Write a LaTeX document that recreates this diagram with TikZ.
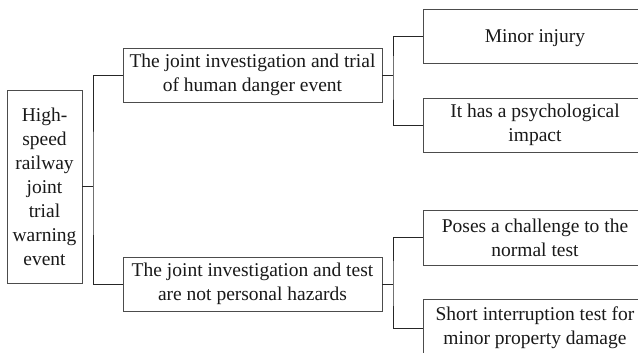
\documentclass[tikz,border=0pt]{standalone}
\usepackage{fontspec}
\setmainfont{Liberation Serif}
\begin{document}
\begin{tikzpicture}[x=1pt,y=-1pt,
  box/.style={draw=black!70, line width=0.9pt, inner sep=0pt, align=center,
    font=\fontsize{19.5}{24}\selectfont, text=black!90},
  multi/.style={box, execute at end node={\vspace{-4pt}}},
  single/.style={box, execute at begin node={\rule{0pt}{18pt}}},
  wire/.style={draw=black!85, line width=0.9pt}]
\useasboundingbox (0,0) rectangle (638,353);
\fill[white] (0,0) rectangle (638,353);
\node[multi, minimum width=75pt, minimum height=193pt] (root) at (44.5,186.5)
  {High-\\speed\\railway\\joint\\trial\\warning\\event};
\node[multi, minimum width=259pt, minimum height=54pt] (m1) at (252.5,75)
  {The joint investigation and trial\\of human danger event};
\node[multi, minimum width=259pt, minimum height=54pt] (m2) at (252.5,284)
  {The joint investigation and test\\are not personal hazards};
\node[single, minimum width=224pt, minimum height=54pt] (l1) at (535,36)
  {Minor injury};
\node[multi, minimum width=224pt, minimum height=54pt] (l2) at (535,125)
  {It has a psychological\\impact};
\node[multi, minimum width=224pt, minimum height=55pt] (l3) at (535,237.5)
  {Poses a challenge to the\\normal test};
\node[multi, minimum width=224pt, minimum height=58pt] (l4) at (535,328)
  {Short interruption test for\\minor property damage};
\coordinate (b1) at (93,186.5);
\coordinate (b2) at (393,75);
\coordinate (b3) at (393,284);
\draw[wire] (root.east) -- (b1);
\draw[wire] (m1.west) -| (b1) |- (m2.west);
\draw[wire] (m1.east) -- (b2);
\draw[wire] (l1.west) -| (b2) |- (l2.west);
\draw[wire] (m2.east) -- (b3);
\draw[wire] (l3.west) -| (b3) |- (l4.west);
\end{tikzpicture}
\end{document}
